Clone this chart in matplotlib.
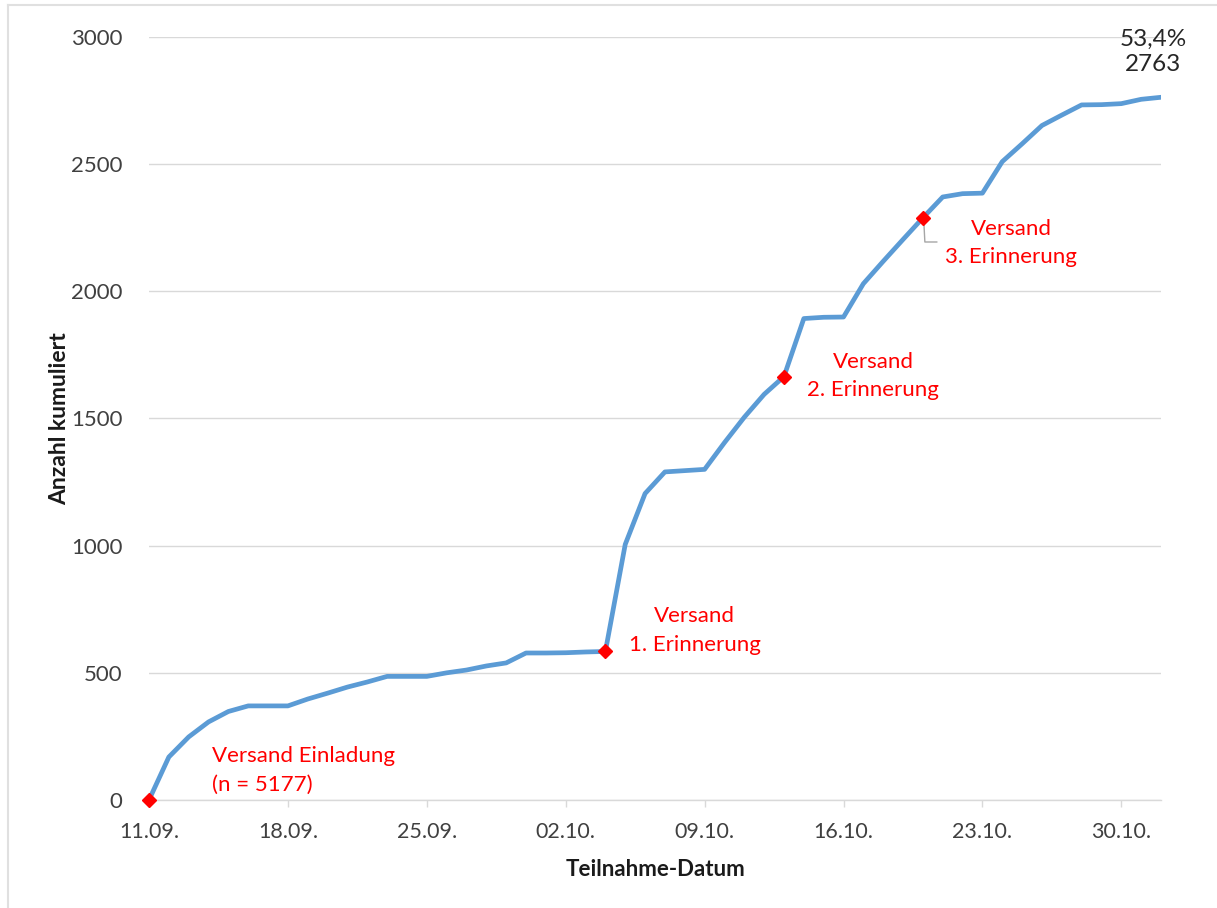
import matplotlib
matplotlib.use("Agg")
import matplotlib.pyplot as plt
import matplotlib.dates as mdates
import pandas as pd
from matplotlib.lines import Line2D

# ---- data ----
start_date = "2015-09-11"
n_days = 52
cumulative = [0, 169, 248, 307, 348, 370, 370, 370, 397, 420,
              444, 464, 486, 486, 486, 500, 511, 527, 539, 578,
              578, 579, 582, 584, 1005, 1205, 1290, 1295, 1300, 1405,
              1505, 1595, 1665, 1893, 1898, 1899, 2030, 2118, 2204, 2289,
              2371, 2384, 2386, 2510, 2580, 2652, 2693, 2733, 2734, 2738,
              2755, 2763]
event_idx = [0, 23, 32, 39]
event_labels = ["Versand Einladung\n(n = 5177)", "Versand\n1. Erinnerung",
                "Versand\n2. Erinnerung", "Versand\n3. Erinnerung"]
tick_labels = ["11.09.", "18.09.", "25.09.", "02.10.", "09.10.", "16.10.", "23.10.", "30.10."]
y_ticks = [0, 500, 1000, 1500, 2000, 2500, 3000]
final_pct = "53,4%"

dates = pd.date_range(start_date, periods=n_days, freq="D")
x = mdates.date2num(dates.to_pydatetime())

plt.rcParams['font.family'] = ['Lato', 'DejaVu Sans']

fig = plt.figure(figsize=(12.17, 9.08), dpi=100)
ax = fig.add_axes([149/1217, 1-800/908, (1161-149)/1217, (800-37)/908])

ax.plot(x, cumulative, color='#5b9bd5', lw=3.4, solid_joinstyle='round', zorder=3)
ax.plot(x[event_idx], [cumulative[i] for i in event_idx], linestyle='none',
        marker='D', markersize=7.5, color='#ff0000', zorder=4, clip_on=False)

ax.set_xlim(x[0], x[-1])
ax.set_ylim(0, 3000)
ax.set_yticks(y_ticks)
ax.set_xticks(x[::7])
ax.set_xticklabels(tick_labels)

for s in ['top', 'right', 'left']:
    ax.spines[s].set_visible(False)
ax.spines['bottom'].set_color('#d9d9d9')
ax.spines['bottom'].set_linewidth(1.0)
ax.grid(axis='y', color='#d9d9d9', lw=1.0)
ax.set_axisbelow(True)
ax.tick_params(axis='x', length=5, width=1, color='#d9d9d9', pad=11,
               labelsize=15.5, labelcolor='#404040')
ax.tick_params(axis='y', length=0, pad=19, labelsize=16, labelcolor='#404040')

ax.set_xlabel("Teilnahme-Datum", fontsize=16, fontweight='bold', color='#1a1a1a')
ax.set_ylabel("Anzahl kumuliert", fontsize=16.5, fontweight='bold', color='#1a1a1a')
ax.xaxis.set_label_coords(0.5, -(870-800)/763)
ax.xaxis.label.set_verticalalignment('center')
ax.yaxis.set_label_coords((60-149)/1012, 0.5)
ax.yaxis.label.set_verticalalignment('center')

# annotations (positions in day offsets / values)
red = '#ff0000'
fs = 16
ls = 1.55
ax.text(x[0] + 3.2, 118, event_labels[0], color=red, fontsize=fs,
        ha='left', va='center', linespacing=ls)
ax.text(x[0] + 27.5, 668, event_labels[1], color=red, fontsize=fs,
        ha='center', va='center', linespacing=ls)
ax.text(x[0] + 36.5, 1667, event_labels[2], color=red, fontsize=fs,
        ha='center', va='center', linespacing=ls)
ax.text(x[0] + 43.45, 2190, event_labels[3], color=red, fontsize=fs,
        ha='center', va='center', linespacing=ls)
ax.plot([x[0] + 39.05, x[0] + 39.1, x[0] + 39.7], [2270, 2194, 2194],
        color='#a6a6a6', lw=1, zorder=2)
ax.text(x[0] + 50.6, 2941, f"{final_pct}\n{cumulative[-1]}", color='#262626',
        fontsize=17.5, ha='center', va='center', linespacing=1.2, clip_on=False)

# faint outer frame
fig.add_artist(Line2D([8/1217, 8/1217], [0, 1-5/908], color='#e0e0e0', lw=1.5,
                      transform=fig.transFigure))
fig.add_artist(Line2D([8/1217, 1], [1-5/908, 1-5/908], color='#e0e0e0', lw=1.5,
                      transform=fig.transFigure))

fig.savefig("out.png", dpi=100, facecolor='white')
